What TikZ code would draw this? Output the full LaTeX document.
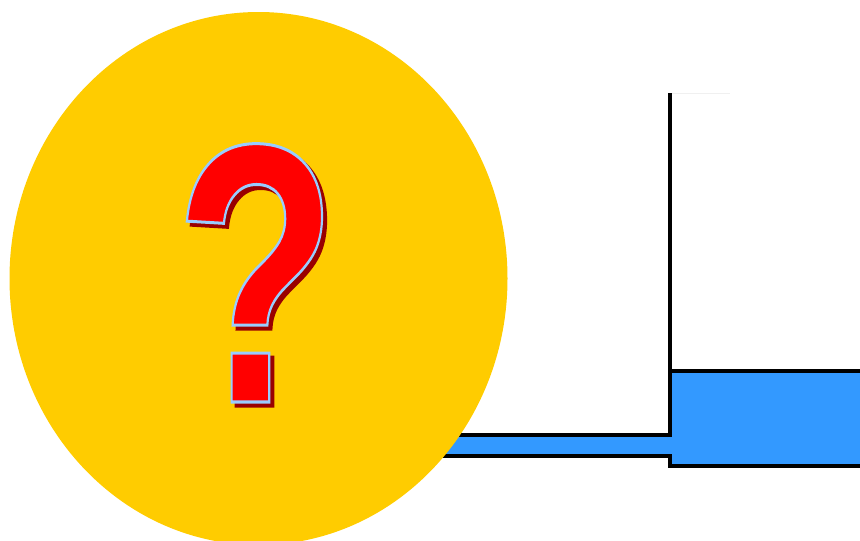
\documentclass[tikz,border=0pt]{standalone}
\usepackage{fontspec}
\setmainfont{Liberation Sans}
\definecolor{cyellow}{HTML}{FFCC00}
\definecolor{cblue}{HTML}{3399FF}
\definecolor{cedge}{HTML}{99CCFF}
\definecolor{cshade}{HTML}{990000}
\tikzset{
  pipeline/.style={draw=black, line width=4pt},
  qmark/.style={anchor=base, inner sep=0pt, xscale=.72, font=\fontsize{370}{370}\selectfont\bfseries},
}
\begin{document}
\begin{tikzpicture}[x=1pt, y=-1pt]
  \clip (0,0) rectangle (860,541);
  % tank and pipe
  \fill[cblue] (669.7,370.7) rectangle (860,466);
  \fill[cblue] (440,435.4) rectangle (672,456.2);
  \draw[white!94!black, line width=1pt] (670,93) -- (730,93);
  \draw[pipeline] (669.7,93) -- (669.7,435.4) -- (430,435.4);
  \draw[pipeline] (860,370.7) -- (669.7,370.7);
  \draw[pipeline] (430,456.2) -- (669.7,456.2) -- (669.7,466) -- (860,466);
  % balloon
  \fill[cyellow] (258.5,278.5) ellipse [x radius=249, y radius=266.5];
  % question mark
  \node[qmark, text=cshade] (markshade) at (260,406) {\special{pdf:code 2 Tr 3 w 0.6 0 0 RG}?\special{pdf:code 0 Tr}};
  \node[qmark, text=red] (qmark) at (256,402) {\special{pdf:code 2 Tr 3 w 0.6 0.8 1 RG}?\special{pdf:code 0 Tr}};
\end{tikzpicture}
\end{document}
